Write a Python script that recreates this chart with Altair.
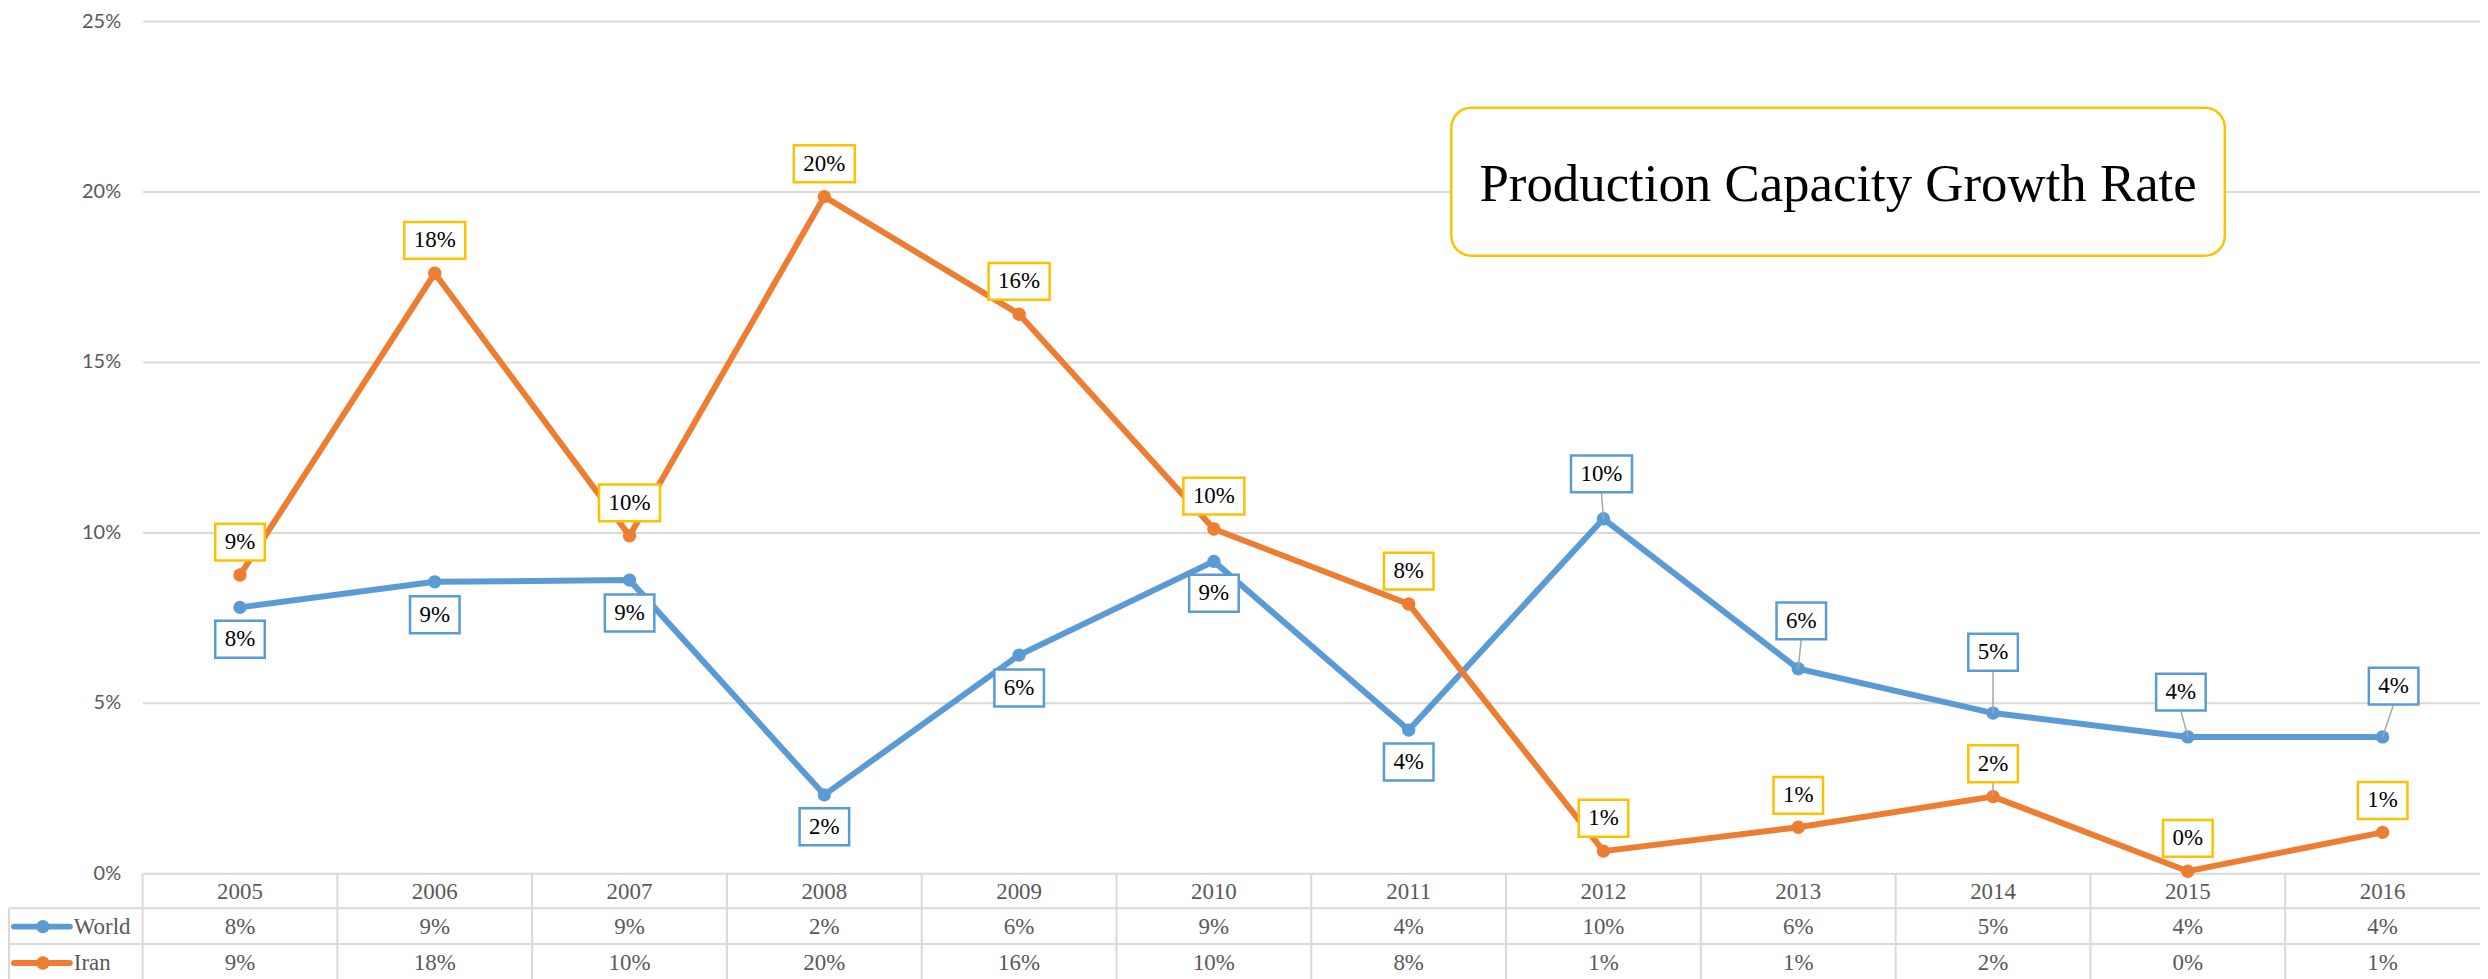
import altair as alt
import pandas as pd

# ---------------- data ----------------
years = ["2005", "2006", "2007", "2008", "2009", "2010",
         "2011", "2012", "2013", "2014", "2015", "2016"]
world = [7.8, 8.55, 8.6, 2.3, 6.4, 9.15, 4.2, 10.4, 6.0, 4.7, 4.0, 4.0]
iran = [8.75, 17.6, 9.9, 19.85, 16.4, 10.1, 7.9, 0.65, 1.35, 2.25, 0.06, 1.2]
series_names = ["World", "Iran"]
y_ticks = [0, 5, 10, 15, 20, 25]
title_text = "Production Capacity Growth Rate"

# ---------------- layout (pixels) ----------------
W, H = 2345, 855
world_dx = [0, 0, 0, 0, 0, 0, 0, -2, 3, 0, -7, 11]
world_dy = [32, 33, 33, 32, 33, 32, 32, -45, -48, -61, -45, -51]
world_leader = [False] * 7 + [True] * 5
iran_dx = [0] * 12
iran_dy = [-33, -33, -33, -33, -33, -33, -33, -33, -32, -33, -33, -32]
iran_leader = [False] * 9 + [True] + [False] * 2

BLUE, ORANGE, GOLD = "#5B9BD5", "#ED7D31", "#FFC000"
GRID, TXT, LEAD = "#D9D9D9", "#595959", "#A6A6A6"
SERIF = "Liberation Serif"
FS = 23
BOX_H = 37
LW = 6
MS = 180

rows = []
for name, vals, dxs, dys, border, leads in [
    ("World", world, world_dx, world_dy, BLUE, world_leader),
    ("Iran", iran, iran_dx, iran_dy, GOLD, iran_leader),
]:
    for i, (yr, v) in enumerate(zip(years, vals)):
        lab = f"{v:.0f}%"
        w = 19 + FS * (0.5 * (len(lab) - 1) + 0.833)
        dx, dy = dxs[i], dys[i]
        box = (f"M{dx - w / 2:.1f},{dy - BOX_H / 2:.1f}h{w:.1f}v{BOX_H}"
               f"h{-w:.1f}Z")
        edge = dy + BOX_H / 2 if dy < 0 else dy - BOX_H / 2
        lead = f"M0,0L{dx},{edge:.1f}"
        rows.append(dict(year=yr, series=name, value=v, label=lab, dx=dx,
                         dy=dy, box=box, lead=lead, border=border,
                         leader=leads[i]))
df = pd.DataFrame(rows)
df_years = pd.DataFrame({"year": years})
one = pd.DataFrame({"a": [0]})

xscale = alt.Scale(type="band", domain=years, paddingInner=0, paddingOuter=0)
yscale = alt.Scale(domain=[0, 25], nice=False)
X = alt.X("year:N", scale=xscale, axis=None)
yaxis = alt.Axis(values=y_ticks, labelExpr="datum.value + '%'", domain=False,
                 ticks=False, tickSize=0, grid=True, gridColor=GRID,
                 gridWidth=2, labelFont="Lato", labelFontSize=20,
                 labelColor=TXT, labelPadding=22, title=None)
Y = alt.Y("value:Q", scale=yscale, axis=yaxis)

layers = []

# title box
layers.append(alt.Chart(one).mark_rect(
    fill="white", stroke=GOLD, strokeWidth=2.5, cornerRadius=20).encode(
    x=alt.value(1313), x2=alt.value(2089), y=alt.value(87), y2=alt.value(235.5)))
layers.append(alt.Chart(one).mark_text(
    text=title_text, font=SERIF, fontSize=53, color="black",
    align="center", baseline="alphabetic").encode(
    x=alt.value(1701), y=alt.value(181)))

# series lines and markers
for name, col in [("World", BLUE), ("Iran", ORANGE)]:
    sub = df[df.series == name]
    layers.append(alt.Chart(sub).mark_line(strokeWidth=LW, color=col).encode(x=X, y=Y))
    layers.append(alt.Chart(sub).mark_point(
        filled=True, size=MS, opacity=1, color=col).encode(x=X, y=Y))

# leader lines
layers.append(alt.Chart(df[df.leader]).mark_point(
    size=4, filled=False, stroke=LEAD, strokeWidth=1.5, opacity=1).encode(
    x=X, y=Y, shape=alt.Shape("lead:N", scale=None)))

# label boxes
layers.append(alt.Chart(df).mark_point(
    size=4, filled=True, fill="white", strokeWidth=2.5, opacity=1).encode(
    x=X, y=Y, shape=alt.Shape("box:N", scale=None),
    stroke=alt.Stroke("border:N", scale=None)))

# label texts grouped by offset
for (dx, dy), sub in df.groupby(["dx", "dy"]):
    layers.append(alt.Chart(sub).mark_text(
        font=SERIF, fontSize=FS, color="black", align="center",
        baseline="middle", dx=int(dx), dy=int(dy)).encode(
        x=X, y=Y, text="label:N"))

# ---------------- data table ----------------
TOP = H
R1, R2 = 890, 926
BOTTOM = 990
layers.append(alt.Chart(df_years).mark_rule(color=GRID, strokeWidth=2).encode(
    x=alt.X("year:N", scale=xscale, axis=None, bandPosition=0),
    y=alt.value(TOP), y2=alt.value(BOTTOM)))
for yy in [R1, R2]:
    layers.append(alt.Chart(one).mark_rule(color=GRID, strokeWidth=2).encode(
        x=alt.value(-134), x2=alt.value(W), y=alt.value(yy)))
layers.append(alt.Chart(one).mark_rule(color=GRID, strokeWidth=2).encode(
    x=alt.value(-134), y=alt.value(R1), y2=alt.value(BOTTOM)))

layers.append(alt.Chart(df_years).mark_text(
    font=SERIF, fontSize=FS, color=TXT, baseline="middle").encode(
    x=X, y=alt.value(873.5), text="year:N"))

for name, col, yc in [("World", BLUE, 908.5), ("Iran", ORANGE, 945)]:
    sub = df[df.series == name]
    layers.append(alt.Chart(sub).mark_text(
        font=SERIF, fontSize=FS, color=TXT, baseline="middle").encode(
        x=X, y=alt.value(yc), text="label:N"))
    layers.append(alt.Chart(one).mark_rule(
        color=col, strokeWidth=LW, strokeCap="round").encode(
        x=alt.value(-129), x2=alt.value(-73), y=alt.value(yc)))
    layers.append(alt.Chart(one).mark_point(
        filled=True, size=MS, opacity=1, color=col).encode(
        x=alt.value(-100), y=alt.value(yc)))
    layers.append(alt.Chart(one).mark_text(
        text=name, font=SERIF, fontSize=FS, color=TXT, align="left",
        baseline="middle").encode(x=alt.value(-69), y=alt.value(yc)))

chart = alt.layer(*layers).properties(
    width=W, height=H,
    autosize=alt.AutoSizeParams(type="none"),
    padding={"left": 135, "top": 11.5, "right": 0, "bottom": 115.5},
    background="white",
).configure_view(stroke=None)

chart.save("out.html", embed_options={"renderer": "svg", "actions": False})
